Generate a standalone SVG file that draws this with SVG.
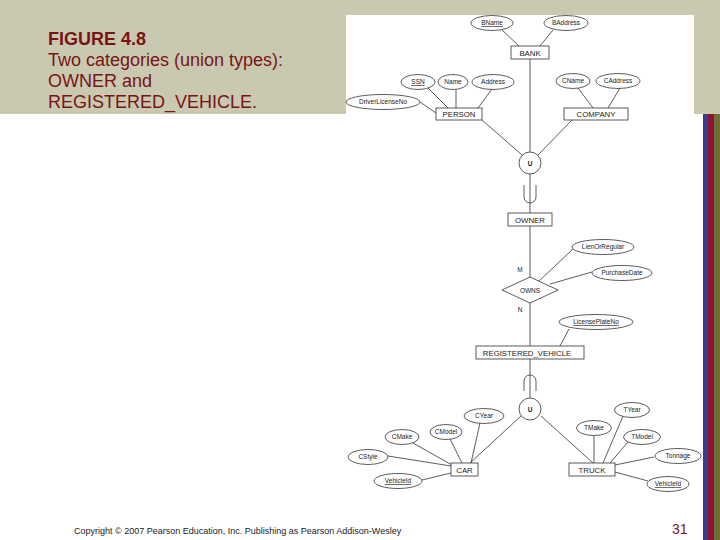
<svg xmlns="http://www.w3.org/2000/svg" width="720" height="540" viewBox="0 0 720 540">
<style>
.bg{fill:#c9c9b2}
.el{fill:#fff;stroke:#333;stroke-width:0.8}
.rc{fill:#fff;stroke:#333;stroke-width:0.8}
.ln{stroke:#333;stroke-width:0.8;fill:none}
.at{font-family:"Liberation Sans",Arial,sans-serif;font-size:6.5px;fill:#222;text-anchor:middle}
.en{font-family:"Liberation Sans",Arial,sans-serif;font-size:7.8px;fill:#222;text-anchor:middle}
.u{text-decoration:underline}
.ttl{font-family:"Liberation Sans",Arial,sans-serif;font-size:18px;fill:#7a1414}
</style>
<rect x="0" y="0" width="720" height="540" fill="#fff"/>
<rect class="bg" x="0" y="0" width="720" height="114"/>
<rect x="346" y="15" width="348" height="99" fill="#fff"/>
<rect x="703" y="114" width="5" height="426" fill="#3c3c8e"/>
<rect x="708" y="114" width="6" height="426" fill="#8c1236"/>
<rect x="714" y="114" width="6" height="426" fill="#6e6e36"/>

<g id="title">
<text class="ttl" x="48" y="45" font-weight="bold">FIGURE 4.8</text>
<text class="ttl" x="48" y="66">Two categories (union types):</text>
<text class="ttl" x="48" y="87">OWNER and</text>
<text class="ttl" x="48" y="108">REGISTERED_VEHICLE.</text>
</g>

<g id="connectors">
<line class="ln" x1="502" y1="30" x2="519" y2="46"/>
<line class="ln" x1="553" y1="30" x2="540" y2="46"/>
<line class="ln" x1="530" y1="59" x2="530" y2="152"/>
<line class="ln" x1="428" y1="88" x2="448" y2="108"/>
<line class="ln" x1="456" y1="90" x2="456" y2="108"/>
<line class="ln" x1="492" y1="89" x2="478" y2="108"/>
<line class="ln" x1="420" y1="102" x2="436" y2="113"/>
<line class="ln" x1="578" y1="88" x2="593" y2="108"/>
<line class="ln" x1="620" y1="88" x2="608" y2="108"/>
<line class="ln" x1="482" y1="120" x2="522" y2="155"/>
<line class="ln" x1="572" y1="120" x2="538" y2="155"/>
<line class="ln" x1="530" y1="174" x2="530" y2="213"/>
<path class="ln" d="M524,185 L524,197 A6,6 0 0 0 536,197 L536,185"/>
<line class="ln" x1="530" y1="226" x2="530" y2="277"/>
<line class="ln" x1="539" y1="281" x2="573" y2="249"/>
<line class="ln" x1="550" y1="284" x2="592" y2="272"/>
<line class="ln" x1="530" y1="303" x2="530" y2="346"/>
<line class="ln" x1="569" y1="329" x2="560" y2="346"/>
<line class="ln" x1="530" y1="359" x2="530" y2="398"/>
<path class="ln" d="M524,391 L524,381 A6,6 0 0 1 536,381 L536,391"/>
<line class="ln" x1="521" y1="416" x2="470" y2="463"/>
<line class="ln" x1="541" y1="416" x2="593" y2="463"/>
<line class="ln" x1="480" y1="423" x2="471" y2="463"/>
<line class="ln" x1="450" y1="439" x2="462" y2="463"/>
<line class="ln" x1="413" y1="443" x2="452" y2="465"/>
<line class="ln" x1="388" y1="456" x2="451" y2="466"/>
<line class="ln" x1="422" y1="480" x2="451" y2="473"/>
<line class="ln" x1="594" y1="436" x2="594" y2="463"/>
<line class="ln" x1="623" y1="416" x2="603" y2="463"/>
<line class="ln" x1="628" y1="442" x2="610" y2="463"/>
<line class="ln" x1="654" y1="457" x2="615" y2="465"/>
<line class="ln" x1="648" y1="481" x2="615" y2="472"/>
</g>

<g id="BName"><ellipse class="el" cx="492" cy="23" rx="21" ry="7.5"/><text class="at u" x="492" y="25.3">BName</text></g>
<g id="BAddress"><ellipse class="el" cx="566" cy="23" rx="22" ry="7.5"/><text class="at" x="566" y="25.3">BAddress</text></g>
<g id="BANK"><rect class="rc" x="511" y="46" width="38" height="13"/><text class="en" x="530" y="55.5">BANK</text></g>

<g id="SSN"><ellipse class="el" cx="418" cy="82" rx="17" ry="7.5"/><text class="at u" x="418" y="84.3">SSN</text></g>
<g id="Name"><ellipse class="el" cx="453" cy="82" rx="15" ry="7.5"/><text class="at" x="453" y="84.3">Name</text></g>
<g id="Address"><ellipse class="el" cx="493" cy="82" rx="21" ry="7.5"/><text class="at" x="493" y="84.3">Address</text></g>
<g id="DriverLicenseNo"><ellipse class="el" cx="383" cy="102" rx="37" ry="7.5"/><text class="at" x="383" y="104.3">DriverLicenseNo</text></g>
<g id="PERSON"><rect class="rc" x="436" y="108" width="46" height="12"/><text class="en" x="459" y="117">PERSON</text></g>

<g id="CName"><ellipse class="el" cx="573" cy="81" rx="17" ry="7.5"/><text class="at" x="573" y="83.3">CName</text></g>
<g id="CAddress"><ellipse class="el" cx="618" cy="81" rx="22" ry="7.5"/><text class="at" x="618" y="83.3">CAddress</text></g>
<g id="COMPANY"><rect class="rc" x="564" y="108" width="64" height="12"/><text class="en" x="596" y="117">COMPANY</text></g>

<g id="U1"><circle class="el" cx="530" cy="163" r="11"/><text class="at" x="530" y="165.5" font-weight="bold" font-size="7">U</text></g>
<g id="OWNER"><rect class="rc" x="508" y="213" width="44" height="13"/><text class="en" x="530" y="222.5">OWNER</text></g>
<g id="M"><text class="at" x="520" y="272" font-size="7">M</text></g>
<g id="OWNS"><polygon class="el" points="502,290 530,277 558,290 530,303"/><text class="at" x="530" y="292.5" font-size="7">OWNS</text></g>
<g id="N"><text class="at" x="520" y="312" font-size="7">N</text></g>
<g id="LienOrRegular"><ellipse class="el" cx="603" cy="247" rx="31" ry="7.5"/><text class="at" x="603" y="249.3">LienOrRegular</text></g>
<g id="PurchaseDate"><ellipse class="el" cx="622" cy="273" rx="30" ry="7.5"/><text class="at" x="622" y="275.3">PurchaseDate</text></g>
<g id="LicensePlateNo"><ellipse class="el" cx="596" cy="322" rx="37" ry="7.5"/><text class="at u" x="596" y="324.3">LicensePlateNo</text></g>
<g id="REGISTERED_VEHICLE"><rect class="rc" x="476" y="346" width="108" height="13"/><text class="en" x="527" y="355.5">REGISTERED_VEHICLE</text></g>

<g id="U2"><circle class="el" cx="530" cy="409" r="11"/><text class="at" x="530" y="411.5" font-weight="bold" font-size="7">U</text></g>

<g id="CYear"><ellipse class="el" cx="484" cy="416" rx="20" ry="7.5"/><text class="at" x="484" y="418.3">CYear</text></g>
<g id="CModel"><ellipse class="el" cx="446" cy="432" rx="16" ry="7.5"/><text class="at" x="446" y="434.3">CModel</text></g>
<g id="CMake"><ellipse class="el" cx="402" cy="437" rx="17" ry="7.5"/><text class="at" x="402" y="439.3">CMake</text></g>
<g id="CStyle"><ellipse class="el" cx="368" cy="457" rx="20" ry="7.5"/><text class="at" x="368" y="459.3">CStyle</text></g>
<g id="VehicleId_car"><ellipse class="el" cx="398" cy="481" rx="24" ry="7.5"/><text class="at u" x="398" y="483.3">VehicleId</text></g>
<g id="CAR"><rect class="rc" x="451" y="463" width="27" height="13"/><text class="en" x="464.5" y="472.5">CAR</text></g>

<g id="TYear"><ellipse class="el" cx="632" cy="410" rx="17.5" ry="7.5"/><text class="at" x="632" y="412.3">TYear</text></g>
<g id="TMake"><ellipse class="el" cx="594" cy="428" rx="17.5" ry="7.5"/><text class="at" x="594" y="430.3">TMake</text></g>
<g id="TModel"><ellipse class="el" cx="642" cy="437" rx="18.5" ry="7.5"/><text class="at" x="642" y="439.3">TModel</text></g>
<g id="Tonnage"><ellipse class="el" cx="678" cy="456" rx="23" ry="7.5"/><text class="at" x="678" y="458.3">Tonnage</text></g>
<g id="VehicleId_truck"><ellipse class="el" cx="668" cy="484" rx="21" ry="7.5"/><text class="at u" x="668" y="486.3">VehicleId</text></g>
<g id="TRUCK"><rect class="rc" x="569" y="463" width="46" height="13"/><text class="en" x="592" y="472.5">TRUCK</text></g>

<g id="footer">
<text x="74" y="534" font-family="'Liberation Sans',Arial,sans-serif" font-size="9" fill="#222">Copyright © 2007 Pearson Education, Inc. Publishing as Pearson Addison-Wesley</text>
<text x="672" y="534" font-family="'Liberation Sans',Arial,sans-serif" font-size="14" fill="#7a1430">31</text>
</g>
</svg>
